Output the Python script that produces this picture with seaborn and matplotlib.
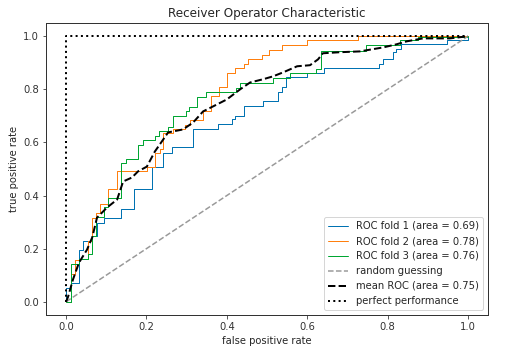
import matplotlib
matplotlib.use("Agg")
import matplotlib.pyplot as plt
import seaborn as sns
import numpy as np

# ---- data ----
fold1_fpr = [0.0, 0.0, 0.012, 0.012, 0.032, 0.032, 0.042, 0.042, 0.065, 0.065, 0.077, 0.077,
             0.095, 0.095, 0.137, 0.137, 0.169, 0.169, 0.214, 0.214, 0.241, 0.241, 0.264, 0.264,
             0.316, 0.316, 0.378, 0.378, 0.413, 0.413, 0.420, 0.420, 0.443, 0.443, 0.490, 0.490,
             0.527, 0.527, 0.537, 0.537, 0.547, 0.547, 0.600, 0.600, 0.642, 0.642, 0.779, 0.779,
             0.789, 0.789, 0.813, 0.813, 0.821, 0.821, 0.833, 0.833, 0.948, 0.948, 1.0, 1.0]
fold1_tpr = [0.0, 0.053, 0.053, 0.072, 0.072, 0.196, 0.196, 0.230, 0.230, 0.249, 0.249, 0.298,
             0.298, 0.317, 0.317, 0.351, 0.351, 0.423, 0.423, 0.509, 0.509, 0.562, 0.562, 0.581,
             0.581, 0.649, 0.649, 0.668, 0.668, 0.687, 0.687, 0.700, 0.700, 0.736, 0.736, 0.755,
             0.755, 0.789, 0.789, 0.808, 0.808, 0.845, 0.845, 0.860, 0.860, 0.879, 0.879, 0.894,
             0.894, 0.913, 0.913, 0.940, 0.940, 0.951, 0.951, 0.970, 0.970, 0.985, 0.985, 1.0]

fold2_fpr = [0.0, 0.012, 0.012, 0.022, 0.022, 0.032, 0.032, 0.055, 0.055, 0.065, 0.065, 0.075,
             0.075, 0.085, 0.085, 0.104, 0.104, 0.127, 0.127, 0.201, 0.201, 0.221, 0.221, 0.234,
             0.234, 0.241, 0.241, 0.266, 0.266, 0.296, 0.296, 0.308, 0.308, 0.341, 0.341, 0.361,
             0.361, 0.381, 0.381, 0.400, 0.400, 0.420, 0.420, 0.443, 0.443, 0.453, 0.453, 0.488,
             0.488, 0.505, 0.505, 0.537, 0.537, 0.600, 0.600, 0.726, 0.726, 1.0]
fold2_tpr = [0.0, 0.0, 0.106, 0.106, 0.158, 0.158, 0.160, 0.160, 0.230, 0.230, 0.317, 0.317,
             0.336, 0.336, 0.370, 0.370, 0.423, 0.423, 0.494, 0.494, 0.509, 0.509, 0.562, 0.562,
             0.577, 0.577, 0.634, 0.634, 0.649, 0.649, 0.664, 0.664, 0.683, 0.683, 0.717, 0.717,
             0.774, 0.774, 0.808, 0.808, 0.860, 0.860, 0.879, 0.879, 0.894, 0.894, 0.913, 0.913,
             0.928, 0.928, 0.947, 0.947, 0.966, 0.966, 0.985, 0.985, 1.0, 1.0]

fold3_fpr = [0.0, 0.012, 0.012, 0.032, 0.032, 0.055, 0.055, 0.065, 0.065, 0.075, 0.075, 0.095,
             0.095, 0.104, 0.104, 0.137, 0.137, 0.149, 0.149, 0.179, 0.179, 0.192, 0.192, 0.221,
             0.221, 0.231, 0.231, 0.254, 0.254, 0.266, 0.266, 0.299, 0.299, 0.306, 0.306, 0.326,
             0.326, 0.348, 0.348, 0.423, 0.423, 0.433, 0.433, 0.515, 0.515, 0.557, 0.557, 0.622,
             0.622, 0.634, 0.634, 0.746, 0.746, 0.831, 0.831, 0.876, 0.876, 1.0, 1.0]
fold3_tpr = [0.0, 0.0, 0.143, 0.143, 0.162, 0.162, 0.181, 0.181, 0.249, 0.249, 0.321, 0.321,
             0.358, 0.358, 0.392, 0.392, 0.521, 0.521, 0.536, 0.536, 0.589, 0.589, 0.608, 0.608,
             0.626, 0.626, 0.645, 0.645, 0.660, 0.660, 0.698, 0.698, 0.717, 0.717, 0.732, 0.732,
             0.770, 0.770, 0.789, 0.789, 0.804, 0.804, 0.823, 0.823, 0.842, 0.842, 0.860, 0.860,
             0.875, 0.875, 0.943, 0.943, 0.966, 0.966, 0.985, 0.985, 0.996, 0.996, 1.0]

mean_fpr = [0.0, 0.005, 0.017, 0.032, 0.052, 0.065, 0.077, 0.102, 0.127, 0.142, 0.164, 0.179,
            0.201, 0.221, 0.254, 0.291, 0.316, 0.341, 0.366, 0.400, 0.433, 0.458, 0.490, 0.515,
            0.540, 0.575, 0.607, 0.627, 0.639, 0.682, 0.731, 0.789, 0.823, 0.848, 0.888, 0.955, 1.0]
mean_tpr = [0.0, 0.019, 0.083, 0.147, 0.196, 0.242, 0.317, 0.355, 0.385, 0.453, 0.468, 0.491,
            0.509, 0.566, 0.638, 0.649, 0.675, 0.717, 0.736, 0.762, 0.800, 0.826, 0.838, 0.849,
            0.864, 0.887, 0.891, 0.913, 0.936, 0.940, 0.943, 0.958, 0.970, 0.981, 0.992, 0.992, 1.0]

fold_labels = ["ROC fold 1 (area = 0.69)", "ROC fold 2 (area = 0.78)", "ROC fold 3 (area = 0.76)"]
fold_colors = ["#0072b2", "#ff7f0e", "#00a632"]
random_x = [0, 1]
random_y = [0, 1]
perfect_x = [0, 0, 1]
perfect_y = [0, 1, 1]

# ---- plot ----
sns.set_style("ticks")
plt.rcParams["font.family"] = ["DejaVu Sans"]
plt.rcParams["font.size"] = 10

fig = plt.figure(figsize=(516 / 72, 356 / 72), dpi=72)
ax = fig.add_axes([46 / 516, 1 - 315 / 356, 442 / 516, 292 / 356])

folds = [(fold1_fpr, fold1_tpr), (fold2_fpr, fold2_tpr), (fold3_fpr, fold3_tpr)]
for (fx, fy), lab, col in zip(folds, fold_labels, fold_colors):
    sns.lineplot(x=fx, y=fy, sort=False, estimator=None, ax=ax, color=col, lw=1, label=lab)

sns.lineplot(x=random_x, y=random_y, sort=False, estimator=None, ax=ax,
             color=(0.6, 0.6, 0.6), lw=1.5, linestyle="--", label="random guessing")
sns.lineplot(x=mean_fpr, y=mean_tpr, sort=False, estimator=None, ax=ax,
             color="k", lw=2, linestyle="--", label="mean ROC (area = 0.75)")
sns.lineplot(x=perfect_x, y=perfect_y, sort=False, estimator=None, ax=ax,
             color="black", lw=2, linestyle=":", label="perfect performance")

ax.set_xlim(-0.05, 1.05)
ax.set_ylim(-0.05, 1.05)
ax.set_xticks([0.0, 0.2, 0.4, 0.6, 0.8, 1.0])
ax.set_yticks([0.0, 0.2, 0.4, 0.6, 0.8, 1.0])
ax.set_xlabel("false positive rate", fontsize=10)
ax.set_ylabel("true positive rate", fontsize=10)
ax.set_title("Receiver Operator Characteristic", fontsize=12)
for s in ax.spines.values():
    s.set_visible(True)
    s.set_color("#333333")
    s.set_linewidth(1.0)
ax.tick_params(direction="out", length=3.5, width=0.8, colors="#333333", labelsize=10)
leg = ax.legend(loc="lower right", fontsize=10, frameon=True)
leg.get_frame().set_edgecolor("#cccccc")

fig.savefig("out.png", dpi=72)
